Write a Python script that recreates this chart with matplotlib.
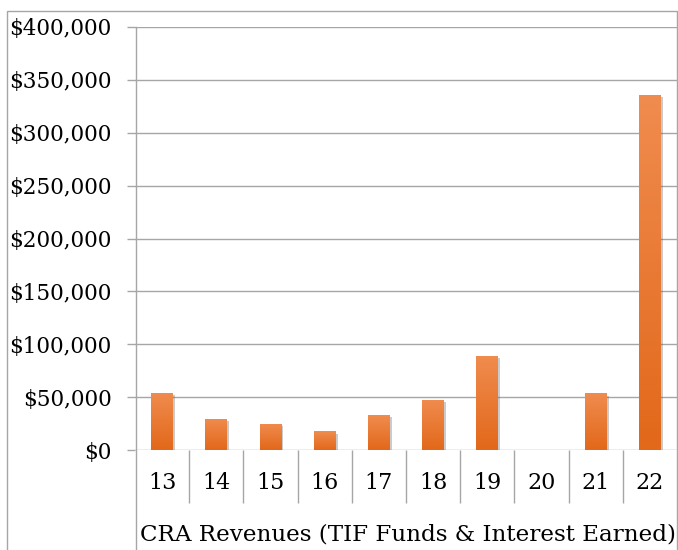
import numpy as np
import matplotlib.pyplot as plt
import matplotlib.patheffects as pe
from matplotlib.colors import LinearSegmentedColormap
from matplotlib.patches import Rectangle
from matplotlib.lines import Line2D

years = ["13", "14", "15", "16", "17", "18", "19", "20", "21", "22"]
revenues = [54000, 29500, 25000, 17500, 33000, 47500, 89000, 0, 53500, 336000]
axis_title = "CRA Revenues (TIF Funds & Interest Earned)"

W, H = 678, 550
grid_col = "#a6a6a6"
plt.rcParams["font.family"] = ["DejaVu Serif"]

fig = plt.figure(figsize=(W / 100, H / 100), dpi=100)
ax = fig.add_axes([135 / W, 100 / H, 542 / W, 423 / H])

x = np.arange(len(years))
bar_w = 0.4
orange = LinearSegmentedColormap.from_list("og", ["#e2681a", "#f08c4f"])
grad = np.linspace(0, 1, 256).reshape(-1, 1)

bars = ax.bar(x, revenues, width=bar_w, color="#ec7a30", zorder=2,
              path_effects=[pe.SimplePatchShadow(offset=(1.5, -1.5), alpha=0.3,
                                                 shadow_rgbFace="#555555"),
                            pe.Normal()])
for b in bars:
    if b.get_height() <= 0:
        continue
    im = ax.imshow(grad, cmap=orange, origin="lower", aspect="auto", zorder=3,
                   extent=[b.get_x(), b.get_x() + b.get_width(), 0, b.get_height()])
    im.set_clip_path(b)

ax.set_xlim(-0.5, len(years) - 0.5)
ax.set_ylim(0, 400000)
ax.set_yticks(np.arange(0, 400001, 50000))
ax.set_yticklabels(["${:,.0f}".format(v) for v in np.arange(0, 400001, 50000)])
ax.yaxis.grid(True, color=grid_col, lw=1)
ax.set_axisbelow(True)

# category dividers as major ticks, labels on minor ticks
ax.set_xticks(np.arange(0.5, len(years) - 1, 1.0))
ax.set_xticklabels([])
ax.set_xticks(x, minor=True)
ax.set_xticklabels(years, minor=True)
ax.tick_params(axis="x", which="major", length=38, width=1, color=grid_col)
ax.tick_params(axis="x", which="minor", length=0, pad=16, labelsize=16)
ax.tick_params(axis="y", length=6, width=1, color=grid_col, pad=11, labelsize=15.5)

for s in ax.spines.values():
    s.set_visible(False)

# left axis line runs down through the category area
fig.add_artist(Line2D([135.5 / W, 135.5 / W], [0, 523 / H], color=grid_col, lw=1))
# chart border
fig.add_artist(Rectangle((6.5 / W, -0.02), 670 / W, (539 / H) + 0.02, fill=False,
                         edgecolor=grid_col, lw=1))

fig.text(408 / W, 15 / H, axis_title, ha="center", va="center", fontsize=16.6)

fig.savefig("out.png", dpi=100)
